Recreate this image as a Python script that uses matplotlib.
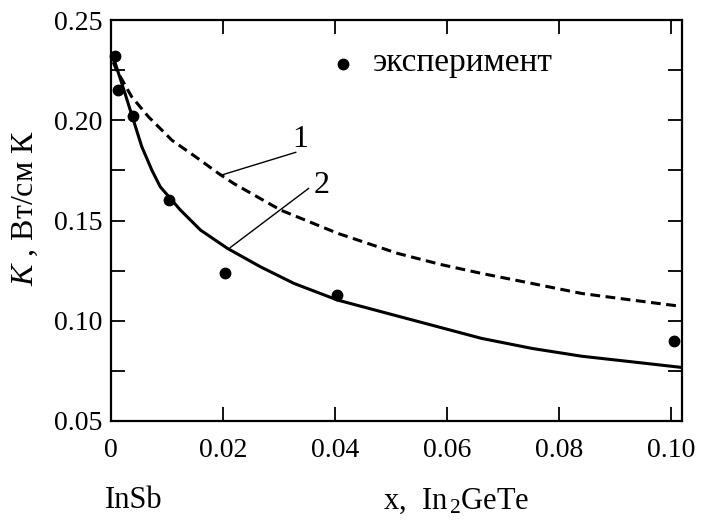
import matplotlib
matplotlib.use("Agg")
import matplotlib.pyplot as plt

plt.rcParams['font.family'] = ['Liberation Serif', 'DejaVu Serif']
plt.rcParams['mathtext.fontset'] = 'custom'
plt.rcParams['mathtext.rm'] = 'Liberation Serif'
plt.rcParams['mathtext.it'] = 'Liberation Serif:italic'

# experimental points
exp_x = [0.0007, 0.0012, 0.004, 0.0103, 0.0203, 0.0403, 0.1006]
exp_y = [0.232, 0.215, 0.202, 0.160, 0.1237, 0.113, 0.0900]

# curve 1 (dashed)
c1_x = [0.0004, 0.0010, 0.0037, 0.0067, 0.0109, 0.0151, 0.0192, 0.0219,
        0.0303, 0.0405, 0.0512, 0.0590, 0.0662, 0.0752, 0.0841, 0.0931,
        0.1015]
c1_y = [0.2290, 0.2250, 0.2117, 0.2017, 0.1900, 0.1818, 0.1735, 0.1685,
        0.1552, 0.1436, 0.1336, 0.1280, 0.1236, 0.1186, 0.1136, 0.1103,
        0.1073]

# curve 2 (solid)
c2_x = [0.0004, 0.0007, 0.0025, 0.0040, 0.0055, 0.0073, 0.0088, 0.0124,
        0.0160, 0.0208, 0.0267, 0.0327, 0.0405, 0.0495, 0.0662, 0.0752,
        0.0841, 0.0931, 0.1020]
c2_y = [0.2317, 0.2290, 0.2134, 0.2001, 0.1868, 0.1751, 0.1668, 0.1552,
        0.1452, 0.1361, 0.1269, 0.1186, 0.1103, 0.1036, 0.0912, 0.0862,
        0.0823, 0.0795, 0.0767]

x_ticks = [0, 0.02, 0.04, 0.06, 0.08, 0.10]
x_tick_labels = ['0', '0.02', '0.04', '0.06', '0.08', '0.10']
y_ticks = [0.05, 0.075, 0.10, 0.125, 0.15, 0.175, 0.20, 0.225, 0.25]
y_tick_labels = ['0.05', '', '0.10', '', '0.15', '', '0.20', '', '0.25']

fig = plt.figure(figsize=(7.17, 5.2), dpi=100)
ax = fig.add_axes([111/717, 1 - 421/520, (682 - 111)/717, (421 - 20)/520])

ax.plot(c1_x, c1_y, color='black', lw=2.2, linestyle=(0, (3.2, 1.8)))
ax.plot(c2_x, c2_y, color='black', lw=2.2, linestyle='-')
ax.plot(exp_x, exp_y, 'o', color='black', markersize=7.5, clip_on=False)

ax.set_xlim(0, 0.102)
ax.set_ylim(0.05, 0.25)

ax.set_xticks(x_ticks)
ax.set_xticklabels(x_tick_labels)
ax.set_yticks(y_ticks)
ax.set_yticklabels(y_tick_labels)
ax.tick_params(axis='both', direction='in', length=10, width=1.3,
               top=True, right=True, labelsize=20, colors='black')
ax.tick_params(axis='x', pad=12)
ax.tick_params(axis='y', pad=6)
for s in ax.spines.values():
    s.set_linewidth(1.6)

# legend
ax.plot([0.0415], [0.228], 'o', color='black', markersize=7.5)
ax.text(0.0468, 0.2285, 'эксперимент', fontsize=24, va='center', ha='left')

# curve labels
ax.plot([0.01955, 0.033], [0.1725, 0.184], color='black', lw=1.0)
ax.text(0.0338, 0.1905, '1', fontsize=23, ha='center', va='center')
ax.plot([0.0213, 0.0353], [0.1365, 0.166], color='black', lw=1.0)
ax.text(0.0377, 0.1675, '2', fontsize=23, ha='center', va='center')

fig.text(25/717, 1 - 208/520, r'$K$ , Вт/см К', rotation=90, fontsize=23,
         ha='center', va='center')
fig.text(105/717, 1 - 501/520, 'InSb', fontsize=22, ha='left', va='center')
fig.text(383/717, 1 - 501/520, r'x,  In$_{\,2}$GeTe', fontsize=22, ha='left',
         va='center')

fig.savefig('out.png', dpi=100)
